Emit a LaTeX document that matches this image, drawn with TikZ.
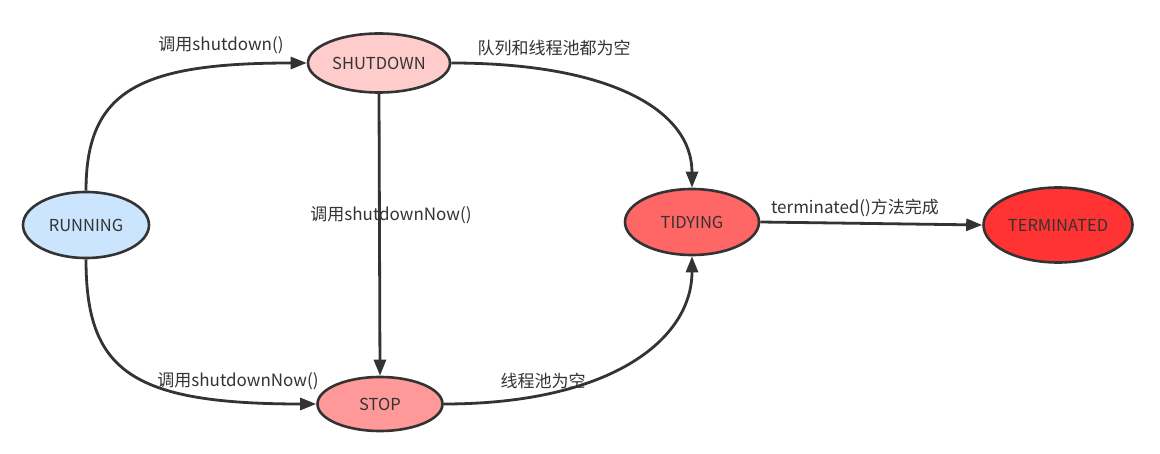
\documentclass[tikz,border=0pt]{standalone}
\usepackage{fontspec}
\setmainfont{Noto Sans CJK SC}
\usetikzlibrary{shapes.geometric,arrows.meta}
\definecolor{ink}{HTML}{333333}
\definecolor{cRun}{HTML}{CCE5FF}
\definecolor{cShut}{HTML}{FFCCCC}
\definecolor{cStop}{HTML}{FF9999}
\definecolor{cTidy}{HTML}{FF6666}
\definecolor{cTerm}{HTML}{FF3333}
\tikzset{
  state/.style={ellipse,draw=ink,line width=2.6pt,text=ink,font=\fontsize{16.5}{19}\selectfont,inner sep=0pt},
  lbl/.style={text=ink,font=\fontsize{17}{20}\selectfont,inner sep=0pt},
  conn/.style={draw=ink,line width=2.8pt,-{Triangle[length=16pt,width=12pt]}}
}
\begin{document}
\begin{tikzpicture}[x=1pt,y=-1pt]
\useasboundingbox (0,0) rectangle (1160,454);
\fill[white] (0,0) rectangle (1160,454);
\node[state,fill=cRun,minimum width=126pt,minimum height=66pt] (run) at (86,225) {RUNNING};
\node[state,fill=cShut,minimum width=142pt,minimum height=59pt] (shut) at (379,63) {SHUTDOWN};
\node[state,fill=cStop,minimum width=125pt,minimum height=54pt] (stop) at (380,404) {STOP};
\node[state,fill=cTidy,minimum width=134pt,minimum height=66pt] (tidy) at (692,222) {TIDYING};
\node[state,fill=cTerm,minimum width=149pt,minimum height=75pt] (term) at (1058,225) {TERMINATED};

\draw[conn] (run.north) .. controls (86,90) and (140,63) .. (shut.west);
\draw[conn] (run.south) .. controls (86,370) and (130,404) .. (stop.west);
\draw[conn] (shut.south) -- (stop.north);
\draw[conn] (shut.east) .. controls (610,63) and (692,110) .. (tidy.north);
\draw[conn] (stop.east) .. controls (610,404) and (692,340) .. (tidy.south);
\draw[conn] (tidy.east) -- (term.west);

\node[lbl] (l1) at (221,45) {调用shutdown()};
\node[lbl] (l2) at (554,48) {队列和线程池都为空};
\node[lbl] (l3) at (391,215) {调用shutdownNow()};
\node[lbl] (l4) at (238,381) {调用shutdownNow()};
\node[lbl] (l5) at (543,381) {线程池为空};
\node[lbl] (l6) at (855,208) {terminated()方法完成};
\end{tikzpicture}
\end{document}
